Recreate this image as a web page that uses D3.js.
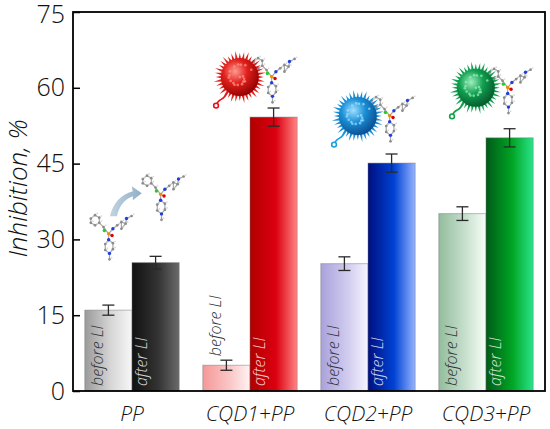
<!DOCTYPE html>
<html>
<head>
<meta charset="utf-8">
<script src="https://cdn.jsdelivr.net/npm/d3@7"></script>
<style>
  body { margin: 0; background: #fff; }
  svg text { font-family: "Open Sans", sans-serif; }
</style>
</head>
<body>
<svg id="chart"></svg>
<script>
const categories = ["PP", "CQD1+PP", "CQD2+PP", "CQD3+PP"];
const series = ["before LI", "after LI"];
const beforeValues = [16.0, 5.1, 25.2, 35.1];
const afterValues = [25.4, 54.2, 45.1, 50.1];
const beforeErrors = [1.0, 1.0, 1.35, 1.35];
const afterErrors = [1.25, 1.8, 1.8, 1.8];
const yTicks = [0, 15, 30, 45, 60, 75];

// gradient stops per bar (left -> right)
const beforeColors = [
  ["#9a9a9a", "#d6d6d6", "#f7f7f7"],
  ["#f59898", "#fac4c4", "#fff2f2"],
  ["#a9a2dc", "#cfcaee", "#f6f4ff"],
  ["#93bd9e", "#c6dfcc", "#f7fdf8"]
];
const afterColors = [
  ["#111111", "#333333", "#6a6a6a"],
  ["#b00000", "#dc0010", "#ff8585"],
  ["#000f80", "#0042d4", "#95b4ff"],
  ["#005a18", "#00a424", "#2ae488"]
];

const w = 550;
const h = 429;
const mLeft = 73, mRight = 545, mTop = 12, mBottom = 391;

const svg = d3.select("#chart").attr("width", w).attr("height", h);
const defs = svg.append("defs");

const x0 = d3.scaleBand().domain(categories).range([mLeft, mRight])
  .paddingInner(0.2).paddingOuter(0.1);
const x1 = d3.scaleBand().domain(series).range([0, x0.bandwidth()]);
const y = d3.scaleLinear().domain([0, 75]).range([mBottom, mTop]);

const rows = [];
categories.forEach((c, i) => {
  rows.push({ cat: c, s: "before LI", v: beforeValues[i], e: beforeErrors[i], col: beforeColors[i], i });
  rows.push({ cat: c, s: "after LI", v: afterValues[i], e: afterErrors[i], col: afterColors[i], i });
});

rows.forEach((d, k) => {
  const g = defs.append("linearGradient").attr("id", "grad" + k)
    .attr("x1", "0%").attr("x2", "100%").attr("y1", "0%").attr("y2", "0%");
  g.append("stop").attr("offset", "0%").attr("stop-color", d.col[0]);
  g.append("stop").attr("offset", "55%").attr("stop-color", d.col[1]);
  g.append("stop").attr("offset", "100%").attr("stop-color", d.col[2]);
  d.gid = "grad" + k;
});

// bars
svg.append("g").selectAll("rect").data(rows).join("rect")
  .attr("x", d => x0(d.cat) + x1(d.s))
  .attr("y", d => y(d.v))
  .attr("width", x1.bandwidth())
  .attr("height", d => y(0) - y(d.v))
  .attr("fill", d => `url(#${d.gid})`)
  .attr("stroke", "rgba(110,110,110,0.45)")
  .attr("stroke-width", 1);

// error bars
const eb = svg.append("g").attr("stroke", "#2a2a2a").attr("stroke-width", 1.3);
rows.forEach(d => {
  const cx = x0(d.cat) + x1(d.s) + x1.bandwidth() / 2;
  eb.append("line").attr("x1", cx).attr("x2", cx).attr("y1", y(d.v + d.e)).attr("y2", y(d.v - d.e));
  eb.append("line").attr("x1", cx - 6).attr("x2", cx + 6).attr("y1", y(d.v + d.e)).attr("y2", y(d.v + d.e));
  eb.append("line").attr("x1", cx - 6).attr("x2", cx + 6).attr("y1", y(d.v - d.e)).attr("y2", y(d.v - d.e));
});

// in-bar labels
svg.append("g").selectAll("text").data(rows).join("text")
  .attr("transform", d => {
    const bx = x0(d.cat) + x1(d.s) + (d.s === "before LI" ? 18 : 15);
    let by = mBottom - 5;
    if (y(d.v + d.e) > mBottom - 72) by = y(d.v + d.e) - 4;
    return `translate(${bx},${by}) rotate(-90)`;
  })
  .attr("font-size", 16)
  .attr("font-style", "italic")
  .attr("font-weight", 300)
  .attr("fill", d => d.s === "before LI" ? "#333" : "rgba(255,255,255,0.82)")
  .text(d => d.s);

// frame
svg.append("rect").attr("x", mLeft).attr("y", mTop)
  .attr("width", mRight - mLeft).attr("height", mBottom - mTop)
  .attr("fill", "none").attr("stroke", "#000").attr("stroke-width", 1.8);

// y axis
const yAxis = d3.axisLeft(y).tickValues(yTicks).tickSizeInner(-7).tickSizeOuter(0).tickPadding(8);
const ya = svg.append("g").attr("transform", `translate(${mLeft},0)`).call(yAxis);
ya.select(".domain").remove();
ya.selectAll(".tick line").attr("stroke", "#000").attr("stroke-width", 1.5);
ya.selectAll("text").attr("font-size", 25).attr("font-weight", 300).attr("fill", "#111")
  .attr("dy", d => d === 75 ? "0.42em" : "0.32em")
  .style("font-family", "'Open Sans', sans-serif");

// x axis
const xAxis = d3.axisBottom(x0).tickSize(0).tickPadding(15);
const xa = svg.append("g").attr("transform", `translate(0,${mBottom})`).call(xAxis);
xa.select(".domain").remove();
xa.selectAll("text").attr("font-size", 21).attr("font-style", "italic").attr("font-weight", 300)
  .attr("fill", "#111").style("font-family", "'Open Sans', sans-serif");

// y title
svg.append("text")
  .attr("transform", `translate(27,${(mTop + mBottom) / 2 - 13}) rotate(-90)`)
  .attr("text-anchor", "middle")
  .attr("font-size", 26).attr("font-style", "italic").attr("font-weight", 300)
  .attr("fill", "#111")
  .text("Inhibition, %");

// ---- decorations: molecules and spiky carbon dots ----
const atoms = [
  [0, -16, "g"], [5, -20, "g"], [10, -17, "g"], [10, -11, "g"], [5, -8, "g"], [0, -11, "g"],
  [15, -6, "g"], [16, -2, "c"], [21, 2, "p"], [25, 4, "r"],
  [26, -4, "b"], [31, -8, "g"], [36, -12, "g"], [41, -10, "g"], [42, -16, "b"], [48, -19, "g"],
  [36, -4, "g"], [21, 9, "b"], [17, 14, "g"], [17, 21, "g"], [22, 25, "b"], [26, 20, "g"],
  [26, 13, "g"], [22, 32, "g"]
];
const bonds = [[0,1],[1,2],[2,3],[3,4],[4,5],[5,0],[3,6],[6,7],[6,8],[8,9],[8,10],[10,11],
  [11,12],[12,13],[13,14],[14,15],[12,16],[16,13],[8,17],[17,18],[18,19],[19,20],[20,21],[21,22],[22,17],[20,23]];
const atomColor = { g: "#8c8c8c", c: "#22cc22", p: "#f08a00", r: "#e00000", b: "#1e3ee0" };

function molecule(cx, cy, s, flip) {
  const g = svg.append("g").attr("transform", `translate(${cx},${cy}) scale(${flip ? -s : s},${s})`);
  bonds.forEach(b => {
    g.append("line")
      .attr("x1", atoms[b[0]][0]).attr("y1", atoms[b[0]][1])
      .attr("x2", atoms[b[1]][0]).attr("y2", atoms[b[1]][1])
      .attr("stroke", "#a8a8a8").attr("stroke-width", 1.4);
  });
  atoms.forEach(a => {
    g.append("circle").attr("cx", a[0]).attr("cy", a[1]).attr("r", a[2] === "g" ? 1.6 : 2)
      .attr("fill", atomColor[a[2]]);
    if (a[2] === "g") {
      g.append("circle").attr("cx", a[0] + 2.5).attr("cy", a[1] - 2).attr("r", 1)
        .attr("fill", "#d8d8d8");
    }
  });
}

const dotStyles = [
  null,
  { id: "rball", c0: "#ff9a90", c1: "#e0201c", c2: "#8c0000", tail: "#e8101a" },
  { id: "bball", c0: "#9fe0ff", c1: "#1a8fd6", c2: "#0a4a8c", tail: "#1aa0e0" },
  { id: "gball", c0: "#9ff0bf", c1: "#10a050", c2: "#05552a", tail: "#12a04a" }
];

function spikyBall(cx, cy, r, st) {
  const rg = defs.append("radialGradient").attr("id", st.id).attr("cx", "38%").attr("cy", "35%").attr("r", "70%");
  rg.append("stop").attr("offset", "0%").attr("stop-color", st.c0);
  rg.append("stop").attr("offset", "45%").attr("stop-color", st.c1);
  rg.append("stop").attr("offset", "100%").attr("stop-color", st.c2);
  const g = svg.append("g");
  // tail
  g.append("path")
    .attr("d", `M${cx - r * 0.6},${cy + r * 0.7} C${cx - r * 0.9},${cy + r * 1.4} ${cx - r * 1.1},${cy + r * 1.0} ${cx - r * 1.25},${cy + r * 1.5}`)
    .attr("fill", "none").attr("stroke", st.tail).attr("stroke-width", 1.6);
  g.append("circle").attr("cx", cx - r * 1.25).attr("cy", cy + r * 1.5).attr("r", 2.4)
    .attr("fill", "#fff").attr("stroke", st.tail).attr("stroke-width", 1.6);
  const n = 36;
  for (let k = 0; k < n; k++) {
    const a = (k / n) * Math.PI * 2;
    const a1 = a - 0.09, a2 = a + 0.09;
    const tip = r + 5 + (k % 3) * 1.2;
    g.append("path")
      .attr("d", `M${cx + Math.cos(a1) * (r - 2)},${cy + Math.sin(a1) * (r - 2)} L${cx + Math.cos(a) * tip},${cy + Math.sin(a) * tip} L${cx + Math.cos(a2) * (r - 2)},${cy + Math.sin(a2) * (r - 2)}Z`)
      .attr("fill", st.c1);
  }
  g.append("circle").attr("cx", cx).attr("cy", cy).attr("r", r).attr("fill", `url(#${st.id})`);
  for (let k = 0; k < 18; k++) {
    const a = k * 2.4;
    const rr = (r - 5) * Math.sqrt(((k * 7) % 18) / 18);
    g.append("circle").attr("cx", cx + Math.cos(a) * rr).attr("cy", cy + Math.sin(a) * rr)
      .attr("r", 1.3).attr("fill", st.c0).attr("opacity", 0.7);
  }
}

// carbon dots above the CQD groups
const ballLift = [0, 40, 47, 50];
categories.forEach((c, i) => {
  if (i === 0) return;
  const cx = x0(c) + 37;
  const cy = y(afterValues[i]) - ballLift[i];
  molecule(cx + 14, cy - 2, 0.85, false);
  spikyBall(cx, cy, 19, dotStyles[i]);
});

// PP: molecule before and after, with arrow
const ppX = x0("PP");
molecule(ppX + 6, y(beforeValues[0]) - 78, 0.85, false);
molecule(ppX + 58, y(afterValues[0]) - 70, 0.85, false);
defs.append("linearGradient").attr("id", "arrowGrad")
  .call(g => {
    g.append("stop").attr("offset", "0%").attr("stop-color", "#c2d4e0");
    g.append("stop").attr("offset", "100%").attr("stop-color", "#8fb0c8");
  });
const ax = ppX + 28, ay = y(beforeValues[0]) - 104;
svg.append("path")
  .attr("d", `M${ax - 3},${ay + 10} Q${ax + 2},${ay - 10} ${ax + 20},${ay - 15} L${ax + 19},${ay - 20} L${ax + 29},${ay - 13} L${ax + 20},${ay - 6} L${ax + 20},${ay - 10} Q${ax + 8},${ay - 6} ${ax + 4},${ay + 10}Z`)
  .attr("fill", "url(#arrowGrad)");
</script>
</body>
</html>
